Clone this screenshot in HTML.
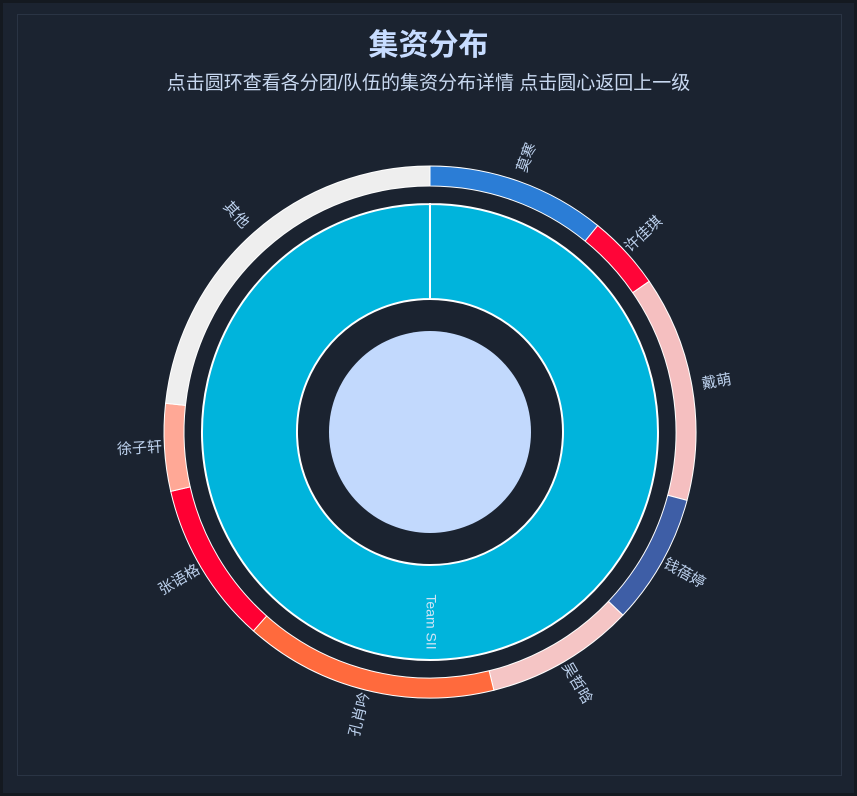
<!DOCTYPE html>
<html><head><meta charset="utf-8"><style>
html,body{margin:0;padding:0;background:#161c25;}
#wrap{position:relative;width:857px;height:796px;background:#1b2330;box-sizing:border-box;border:3px solid #141920;}
#frame{position:absolute;left:14px;top:11px;width:823px;height:760px;border:1px solid #2a3444;}
#title{position:absolute;left:-3px;width:857px;top:24px;text-align:center;font:bold 30px "Liberation Sans","Noto Sans CJK SC",sans-serif;color:#c7dcff;line-height:38px;}
#sub{position:absolute;left:-3px;width:857px;top:69px;text-align:center;font:19px "Liberation Sans","Noto Sans CJK SC",sans-serif;color:#c8d8f0;line-height:24px;}
svg{position:absolute;left:-3px;top:-3px;}
</style></head><body>
<div id="wrap">
<div id="frame"></div>
<div id="title">集资分布</div>
<div id="sub">点击圆环查看各分团/队伍的集资分布详情 点击圆心返回上一级</div>
<svg id="chart" width="857" height="796"></svg>
</div>
<script>
const names = ["莫寒","许佳琪","戴萌","钱蓓婷","吴哲晗","孔肖吟","张语格","徐子轩","其他"];
const values = [39.1,16.4,49.4,28.6,32.6,55.5,35.5,19.1,83.8];
const colors = ["#2b7dd6","#ff0538","#f5bfc0","#3e5ea6","#f5c5c5","#ff6a3d","#ff0033","#ffa896","#eeeeee"];
const teamName = "Team SII";
const cx=430, cy=432;
const svg=document.getElementById('chart');
const NS="http://www.w3.org/2000/svg";
function pt(a,r){const t=(a-90)*Math.PI/180;return [cx+r*Math.cos(t),cy+r*Math.sin(t)];}
function arc(a0,a1,r0,r1){
  const big=(a1-a0)>180?1:0;
  const p0=pt(a0,r1),p1=pt(a1,r1),p2=pt(a1,r0),p3=pt(a0,r0);
  return `M${p0}A${r1},${r1} 0 ${big} 1 ${p1}L${p2}A${r0},${r0} 0 ${big} 0 ${p3}Z`;
}
const c=document.createElementNS(NS,'circle');
c.setAttribute('cx',cx);c.setAttribute('cy',cy);c.setAttribute('r',101);c.setAttribute('fill','#c2d9fd');


svg.appendChild(c);
const tr=document.createElementNS(NS,'path');
tr.setAttribute('d',arc(0,359.99,133,228));
tr.setAttribute('fill','#00b4dc');tr.setAttribute('stroke','#fff');tr.setAttribute('stroke-width','2');


svg.appendChild(tr);
const tl=document.createElementNS(NS,'text');
const tp=pt(180,190);
tl.setAttribute('x',tp[0]);tl.setAttribute('y',tp[1]);
tl.setAttribute('transform',`rotate(90 ${tp[0]} ${tp[1]})`);
tl.setAttribute('text-anchor','middle');tl.setAttribute('dominant-baseline','middle');
tl.setAttribute('font-family','Liberation Sans, sans-serif');tl.setAttribute('font-size','14');tl.setAttribute('fill','#cfe4f5');
tl.textContent=teamName;


svg.appendChild(tl);
const total=values.reduce((a,b)=>a+b,0);
let acc=0;
values.forEach((v,i)=>{
  const a0=acc/total*360, a1=(acc+v)/total*360; acc+=v;
  const p=document.createElementNS(NS,'path');
  p.setAttribute('d',arc(a0,a1,246,266));
  p.setAttribute('fill',colors[i]);p.setAttribute('stroke','#fff');p.setAttribute('stroke-width','1');
  
  
  svg.appendChild(p);
  const am=(a0+a1)/2, lp=pt(am,291);
  const rot = am<180 ? am-90 : am-270;
  const t=document.createElementNS(NS,'text');
  t.setAttribute('x',lp[0]);t.setAttribute('y',lp[1]);
  t.setAttribute('transform',`rotate(${rot} ${lp[0]} ${lp[1]})`);
  t.setAttribute('text-anchor','middle');t.setAttribute('dominant-baseline','middle');
  t.setAttribute('font-family','Liberation Sans, Noto Sans CJK SC, sans-serif');t.setAttribute('font-size','15');t.setAttribute('fill','#bcd0ec');
  t.textContent=names[i];
  
  
  svg.appendChild(t);
});
</script>
</body></html>
